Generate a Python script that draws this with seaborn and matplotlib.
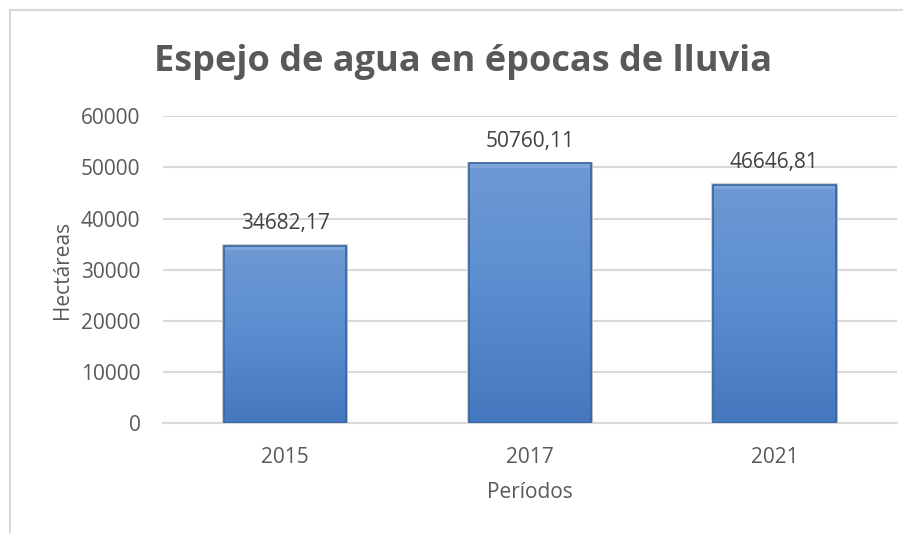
import matplotlib.pyplot as plt
import seaborn as sns
import numpy as np
import pandas as pd
from matplotlib.patches import Rectangle
from matplotlib.colors import LinearSegmentedColormap

# datos
periodos = ["2015", "2017", "2021"]
hectareas = [34682.17, 50760.11, 46646.81]
yticks = [0, 10000, 20000, 30000, 40000, 50000, 60000]

df = pd.DataFrame({"Períodos": periodos, "Hectáreas": hectareas})

sns.set_style("white")
plt.rcParams["font.family"] = ["Open Sans", "DejaVu Sans"]
gris = "#595959"

fig = plt.figure(figsize=(9.04, 5.33), dpi=100)
# marco del gráfico
fig.patches.append(Rectangle((10 / 904, -0.05), 1.2, 1 - 10 / 533 + 0.05,
                             transform=fig.transFigure, fill=False,
                             edgecolor="#D9D9D9", linewidth=1.5))

ax = fig.add_axes([0.180, 0.206, 0.812, 0.576])
sns.barplot(data=df, x="Períodos", y="Hectáreas", color="#5589CC", width=0.5,
            edgecolor="#3B659F", linewidth=1.0, ax=ax, zorder=3)

# degradado en las barras
cmap = LinearSegmentedColormap.from_list("azul", ["#4477BD", "#5A8DD0", "#6E99D4"])
grad = np.linspace(0, 1, 256).reshape(-1, 1)
for bar in ax.patches[:len(hectareas)]:
    x0, y0 = bar.get_x(), bar.get_y()
    w, h = bar.get_width(), bar.get_height()
    # sombra suave
    ax.add_patch(Rectangle((x0 - 0.008, y0), w + 0.016, h + 300, facecolor="#D0D0D0",
                           edgecolor="none", zorder=2.5))
    im = ax.imshow(grad, cmap=cmap, aspect="auto", origin="lower",
                   extent=(x0, x0 + w, y0, y0 + h), zorder=3.5)
    im.set_clip_path(bar)
    # bisel superior
    ax.add_patch(Rectangle((x0, y0 + h - 900), w, 900, facecolor="#8CB0E0",
                           edgecolor="none", alpha=0.6, zorder=3.6))
    ax.add_patch(Rectangle((x0, y0), w, h, fill=False, edgecolor="#3B659F",
                           linewidth=1.2, zorder=4))

for i, v in enumerate(hectareas):
    ax.text(i, v + 2300, f"{v:.2f}".replace(".", ","), ha="center", va="bottom",
            fontsize=15, color="#404040")

ax.set_ylim(0, 60000)
ax.set_xlim(-0.5, 2.5)
ax.set_yticks(yticks)
ax.set_yticklabels([str(t) for t in yticks])
ax.yaxis.grid(True, color="#D9D9D9", linewidth=1.5, zorder=0)
ax.set_axisbelow(True)
for s in ["left", "right", "top"]:
    ax.spines[s].set_visible(False)
ax.spines["bottom"].set_color("#D9D9D9")
ax.spines["bottom"].set_linewidth(1.5)
ax.tick_params(axis="y", length=0, pad=16, labelsize=15, labelcolor=gris)
ax.tick_params(axis="x", length=0, pad=17, labelsize=15, labelcolor=gris)

ax.set_xlabel("Períodos", fontsize=15, color=gris, labelpad=10)
ax.set_ylabel("Hectáreas", fontsize=15, color=gris, labelpad=6)

fig.text(463 / 904, 1 - 62 / 533, "Espejo de agua en épocas de lluvia",
         ha="center", va="center", fontsize=26, fontweight="bold", color=gris)

plt.savefig("out.png", dpi=100)
